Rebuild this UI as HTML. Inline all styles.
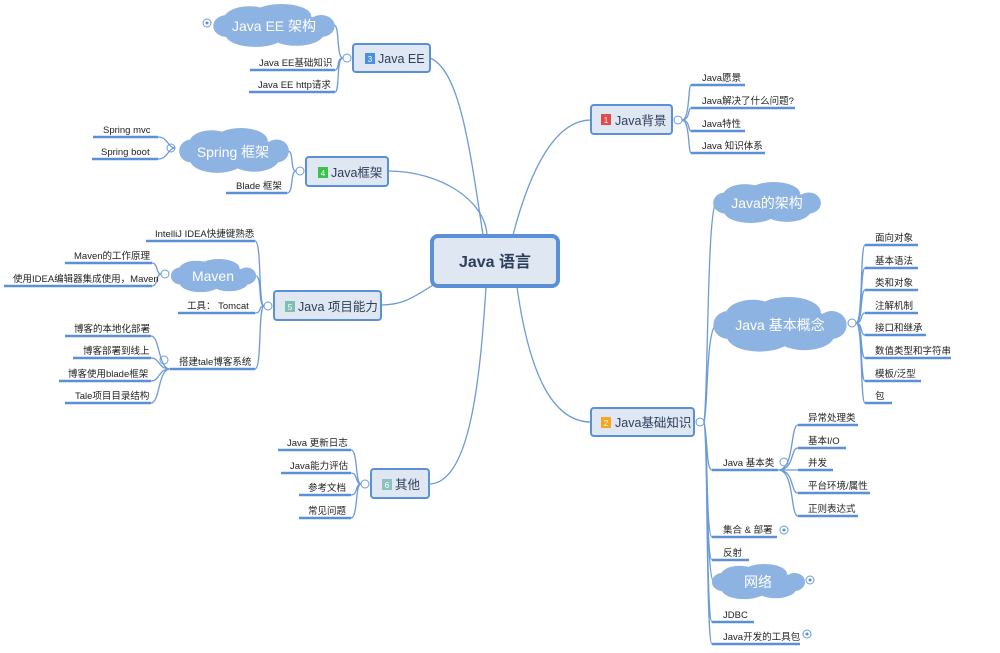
<!DOCTYPE html>
<html><head><meta charset="utf-8"><style>
html,body{margin:0;padding:0;background:#fff;}
svg{display:block;}
text{font-family:"Liberation Sans","Noto Sans CJK SC",sans-serif;}
.l{font-size:9.5px;fill:#222;}
.n{font-size:12.5px;fill:#2c3e5a;}
.c{font-size:14px;fill:#fff;}
.e{fill:none;stroke:#6b9bd8;stroke-width:1.3;}
.u{stroke:#5b8fd6;stroke-width:2.5;}
.b{fill:#dfe7f3;stroke:#5b8fd6;stroke-width:2;}
.o{fill:#fff;stroke:#6b9bd8;stroke-width:1;}
</style></head><body>
<svg width="1000" height="653" viewBox="0 0 1000 653" xmlns="http://www.w3.org/2000/svg">
<defs>
<symbol id="cl" viewBox="0 0 100 40" preserveAspectRatio="none">
<g fill="#8db3e2">
<ellipse cx="50" cy="20" rx="42" ry="12"/>
<ellipse cx="30" cy="13" rx="20" ry="11"/>
<ellipse cx="56" cy="11" rx="24" ry="11"/>
<ellipse cx="35" cy="28" rx="24" ry="11"/>
<ellipse cx="68" cy="27" rx="22" ry="11"/>
<ellipse cx="12" cy="20" rx="11" ry="10"/>
<ellipse cx="88" cy="20" rx="11" ry="10"/>
</g></symbol>
</defs>

<!-- center edges -->
<path class="e" d="M483,235 C470,150 460,70 430,58"/>
<path class="e" d="M487,235 C485,200 440,171 388,171"/>
<path class="e" d="M433,285 C410,300 400,305 381,305"/>
<path class="e" d="M486,287 C480,380 470,484 429,484"/>
<path class="e" d="M513,235 C530,170 555,120 591,120"/>
<path class="e" d="M517,287 C530,380 555,422 591,422"/>

<!-- center -->
<rect x="432" y="236" width="126" height="50" rx="6" fill="#dfe7f3" stroke="#5b8fd6" stroke-width="4"/>
<text x="495" y="267" text-anchor="middle" style="font-size:16px;font-weight:bold;fill:#2c3e5a">Java 语言</text>

<!-- Java背景 -->
<rect class="b" x="591" y="105" width="81" height="29" rx="3"/>
<rect x="601" y="114" width="10" height="11" fill="#e04b4b"/><text x="606" y="123" text-anchor="middle" style="font-size:8px;fill:#fff">1</text>
<text class="n" x="615" y="125">Java背景</text>
<circle class="o" cx="678" cy="120" r="4"/>
<path class="e" d="M682,120 C690,120 688,85 691,85 M682,120 C690,120 688,108 691,108 M682,120 C690,120 688,131 691,131 M682,120 C690,120 688,153 691,153"/>
<line class="u" x1="691" y1="85" x2="745" y2="85"/><text class="l" x="702" y="81">Java愿景</text>
<line class="u" x1="691" y1="108" x2="795" y2="108"/><text class="l" x="702" y="104">Java解决了什么问题?</text>
<line class="u" x1="691" y1="131" x2="745" y2="131"/><text class="l" x="702" y="127">Java特性</text>
<line class="u" x1="691" y1="153" x2="765" y2="153"/><text class="l" x="702" y="149">Java 知识体系</text>

<!-- Java基础知识 -->
<rect class="b" x="591" y="408" width="103" height="28" rx="3"/>
<rect x="601" y="417" width="10" height="11" fill="#f5a623"/><text x="606" y="426" text-anchor="middle" style="font-size:8px;fill:#fff">2</text>
<text class="n" x="615" y="427">Java基础知识</text>
<circle class="o" cx="700" cy="422" r="4"/>
<path class="e" d="M704,422 C708,400 707,210 716,203"/>
<path class="e" d="M704,422 C708,410 706,330 716,325"/>
<path class="e" d="M704,422 C708,440 706,470 712,470 M704,422 C708,440 706,537 712,537 M704,422 C708,440 706,560 712,560 M704,422 C708,440 706,582 714,582 M704,422 C708,440 706,622 712,622 M704,422 C708,440 706,644 712,644"/>
<use href="#cl" x="712" y="182" width="110" height="42"/>
<text class="c" x="767" y="208" text-anchor="middle">Java的架构</text>
<use href="#cl" x="712" y="297" width="136" height="56"/>
<text class="c" x="780" y="330" text-anchor="middle">Java 基本概念</text>
<circle class="o" cx="852" cy="323" r="4"/>
<path class="e" d="M856,323 C863,323 860,245 865,245 M856,323 C863,323 860,268 865,268 M856,323 C863,323 860,290 865,290 M856,323 C863,323 860,313 865,313 M856,323 C863,323 860,335 865,335 M856,323 C863,323 860,358 865,358 M856,323 C863,323 860,381 865,381 M856,323 C863,323 860,403 865,403"/>
<line class="u" x1="865" y1="245" x2="918" y2="245"/><text class="l" x="875" y="241">面向对象</text>
<line class="u" x1="865" y1="268" x2="918" y2="268"/><text class="l" x="875" y="264">基本语法</text>
<line class="u" x1="865" y1="290" x2="918" y2="290"/><text class="l" x="875" y="286">类和对象</text>
<line class="u" x1="865" y1="313" x2="918" y2="313"/><text class="l" x="875" y="309">注解机制</text>
<line class="u" x1="865" y1="335" x2="926" y2="335"/><text class="l" x="875" y="331">接口和继承</text>
<line class="u" x1="865" y1="358" x2="951" y2="358"/><text class="l" x="875" y="354">数值类型和字符串</text>
<line class="u" x1="865" y1="381" x2="921" y2="381"/><text class="l" x="875" y="377">模板/泛型</text>
<line class="u" x1="865" y1="403" x2="892" y2="403"/><text class="l" x="875" y="399">包</text>

<line class="u" x1="712" y1="470" x2="778" y2="470"/><text class="l" x="723" y="466">Java 基本类</text>
<circle class="o" cx="784" cy="462" r="4"/>
<path class="e" d="M778,470 C795,470 790,425 798,425 M778,470 C795,470 790,448 798,448 M778,470 L798,470 M778,470 C795,470 790,493 798,493 M778,470 C795,470 790,516 798,516"/>
<line class="u" x1="798" y1="425" x2="858" y2="425"/><text class="l" x="808" y="421">异常处理类</text>
<line class="u" x1="798" y1="448" x2="846" y2="448"/><text class="l" x="808" y="444">基本I/O</text>
<line class="u" x1="798" y1="470" x2="833" y2="470"/><text class="l" x="808" y="466">并发</text>
<line class="u" x1="798" y1="493" x2="870" y2="493"/><text class="l" x="808" y="489">平台环境/属性</text>
<line class="u" x1="798" y1="516" x2="858" y2="516"/><text class="l" x="808" y="512">正则表达式</text>
<line class="u" x1="712" y1="537" x2="777" y2="537"/><text class="l" x="723" y="533">集合 &amp; 部署</text>
<circle class="o" cx="784" cy="530" r="4"/><circle cx="784" cy="530" r="1.5" fill="#5b8fd6"/>
<line class="u" x1="712" y1="560" x2="749" y2="560"/><text class="l" x="723" y="556">反射</text>
<use href="#cl" x="711" y="564" width="95" height="36"/>
<text class="c" x="758" y="587" text-anchor="middle">网络</text>
<circle class="o" cx="810" cy="580" r="4"/><circle cx="810" cy="580" r="1.5" fill="#5b8fd6"/>
<line class="u" x1="712" y1="622" x2="754" y2="622"/><text class="l" x="723" y="618">JDBC</text>
<line class="u" x1="712" y1="644" x2="800" y2="644"/><text class="l" x="723" y="640">Java开发的工具包</text>
<circle class="o" cx="807" cy="634" r="4"/><circle cx="807" cy="634" r="1.5" fill="#5b8fd6"/>

<!-- Java EE -->
<rect class="b" x="353" y="44" width="77" height="28" rx="3"/>
<rect x="365" y="53" width="10" height="11" fill="#4a90e2"/><text x="370" y="62" text-anchor="middle" style="font-size:8px;fill:#fff">3</text>
<text class="n" x="378" y="63">Java EE</text>
<circle class="o" cx="347" cy="58" r="4"/>
<path class="e" d="M343,58 C336,58 340,25 334,25 M343,58 C336,58 340,70 335,70 M343,58 C336,58 340,92 335,92"/>
<use href="#cl" x="212" y="4" width="124" height="44"/>
<text class="c" x="274" y="31" text-anchor="middle">Java EE 架构</text>
<circle class="o" cx="207" cy="23" r="4"/><circle cx="207" cy="23" r="1.5" fill="#5b8fd6"/>
<line class="u" x1="250" y1="70" x2="335" y2="70"/><text class="l" x="259" y="66">Java EE基础知识</text>
<line class="u" x1="249" y1="92" x2="335" y2="92"/><text class="l" x="258" y="88">Java EE http请求</text>

<!-- Java框架 -->
<rect class="b" x="306" y="157" width="82" height="29" rx="3"/>
<rect x="318" y="167" width="10" height="11" fill="#3cc14e"/><text x="323" y="176" text-anchor="middle" style="font-size:8px;fill:#fff">4</text>
<text class="n" x="331" y="177">Java框架</text>
<circle class="o" cx="300" cy="171" r="4"/>
<path class="e" d="M296,171 C290,171 294,151 288,151 M296,171 C290,171 294,193 287,193"/>
<use href="#cl" x="178" y="128" width="112" height="46"/>
<text class="c" x="233" y="157" text-anchor="middle">Spring 框架</text>
<circle class="o" cx="171" cy="148" r="4"/>
<path class="e" d="M175,148 C168,148 168,137 158,137 M175,148 C168,148 168,159 158,159"/>
<line class="u" x1="93" y1="137" x2="158" y2="137"/><text class="l" x="103" y="133">Spring mvc</text>
<line class="u" x1="92" y1="159" x2="158" y2="159"/><text class="l" x="101" y="155">Spring boot</text>
<line class="u" x1="226" y1="193" x2="287" y2="193"/><text class="l" x="236" y="189">Blade 框架</text>

<!-- 项目能力 -->
<rect class="b" x="274" y="291" width="107" height="29" rx="3"/>
<rect x="285" y="301" width="10" height="11" fill="#7fbfb0"/><text x="290" y="310" text-anchor="middle" style="font-size:8px;fill:#fff">5</text>
<text class="n" x="298" y="311">Java 项目能力</text>
<circle class="o" cx="268" cy="306" r="4"/>
<path class="e" d="M264,306 C258,306 262,241 255,241 M264,306 C258,306 262,276 256,276 M264,306 C258,306 262,313 255,313 M264,306 C258,306 262,369 255,369"/>
<line class="u" x1="146" y1="241" x2="255" y2="241"/><text class="l" x="155" y="237">IntelliJ IDEA快捷键熟悉</text>
<use href="#cl" x="170" y="259" width="87" height="34"/>
<text class="c" x="213" y="281" text-anchor="middle">Maven</text>
<circle class="o" cx="165" cy="274" r="4"/>
<path class="e" d="M161,274 C156,274 158,263 152,263 M161,274 C156,274 158,286 152,286"/>
<line class="u" x1="65" y1="263" x2="152" y2="263"/><text class="l" x="74" y="259">Maven的工作原理</text>
<line class="u" x1="4" y1="286" x2="152" y2="286"/><text class="l" x="13" y="282">使用IDEA编辑器集成使用，Maven</text>
<line class="u" x1="178" y1="313" x2="255" y2="313"/><text class="l" x="187" y="309">工具： Tomcat</text>
<line class="u" x1="170" y1="369" x2="255" y2="369"/><text class="l" x="179" y="365">搭建tale博客系统</text>
<circle class="o" cx="164" cy="360" r="4"/>
<path class="e" d="M170,369 C158,369 160,336 151,336 M170,369 C158,369 160,358 151,358 M170,369 C158,369 160,381 151,381 M170,369 C158,369 160,403 151,403"/>
<line class="u" x1="65" y1="336" x2="151" y2="336"/><text class="l" x="74" y="332">博客的本地化部署</text>
<line class="u" x1="73" y1="358" x2="151" y2="358"/><text class="l" x="83" y="354">博客部署到线上</text>
<line class="u" x1="59" y1="381" x2="151" y2="381"/><text class="l" x="68" y="377">博客使用blade框架</text>
<line class="u" x1="65" y1="403" x2="151" y2="403"/><text class="l" x="75" y="399">Tale项目目录结构</text>

<!-- 其他 -->
<rect class="b" x="371" y="469" width="58" height="29" rx="3"/>
<rect x="382" y="479" width="10" height="11" fill="#8fc0c0"/><text x="387" y="488" text-anchor="middle" style="font-size:8px;fill:#fff">6</text>
<text class="n" x="395" y="489">其他</text>
<circle class="o" cx="365" cy="484" r="4"/>
<path class="e" d="M361,484 C355,484 358,450 351,450 M361,484 C355,484 358,473 351,473 M361,484 C355,484 358,495 351,495 M361,484 C355,484 358,518 351,518"/>
<line class="u" x1="278" y1="450" x2="351" y2="450"/><text class="l" x="287" y="446">Java 更新日志</text>
<line class="u" x1="281" y1="473" x2="351" y2="473"/><text class="l" x="290" y="469">Java能力评估</text>
<line class="u" x1="299" y1="495" x2="351" y2="495"/><text class="l" x="308" y="491">参考文档</text>
<line class="u" x1="299" y1="518" x2="351" y2="518"/><text class="l" x="308" y="514">常见问题</text>
</svg>
</body></html>
